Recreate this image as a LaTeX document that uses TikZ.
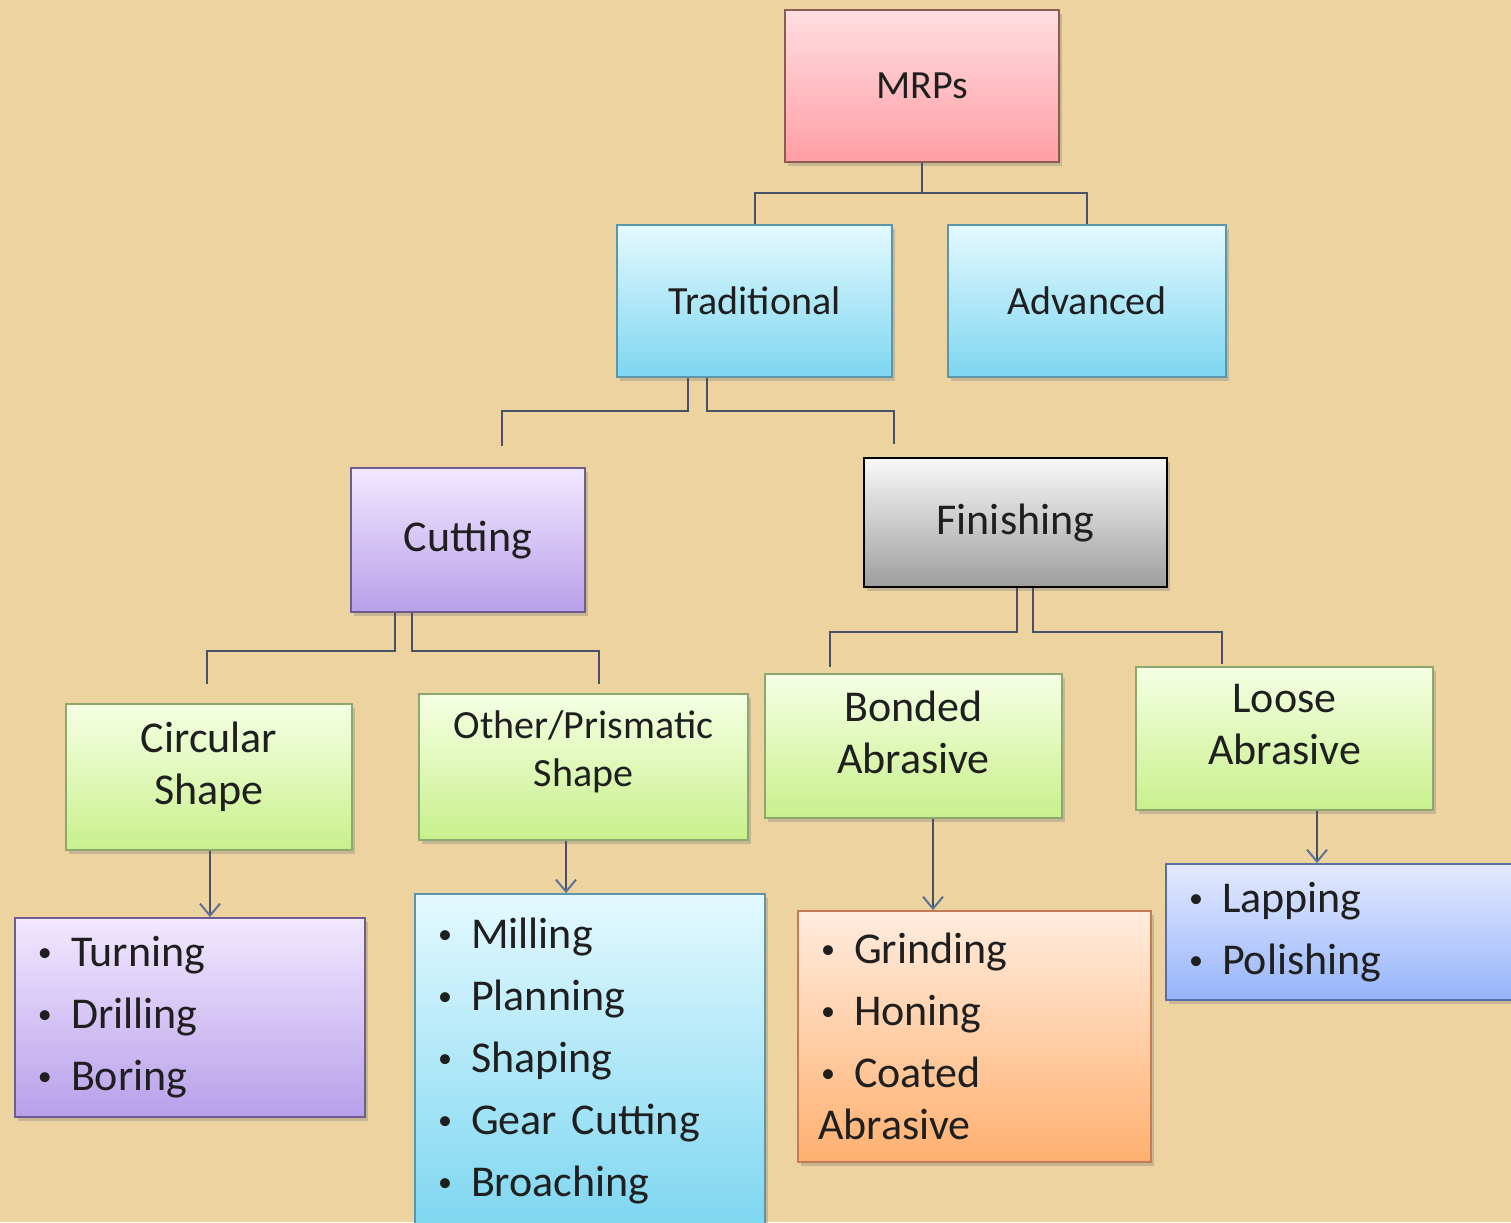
\documentclass[tikz,border=0pt]{standalone}
\usepackage{fontspec}
\setmainfont{Carlito}
\usetikzlibrary{positioning}
\usetikzlibrary{arrows.meta,shadows}
\definecolor{paper}{RGB}{236,211,160}
\definecolor{linkgrey}{RGB}{72,82,100}
\definecolor{tipblue}{RGB}{95,115,150}
\definecolor{pinktop}{RGB}{255,222,226}
\definecolor{pinkbot}{RGB}{255,158,164}
\definecolor{pinkline}{RGB}{140,92,82}
\definecolor{cyantop}{RGB}{228,249,255}
\definecolor{cyanbot}{RGB}{125,214,240}
\definecolor{cyanline}{RGB}{92,150,168}
\definecolor{lilactop}{RGB}{242,232,255}
\definecolor{lilacbot}{RGB}{184,160,234}
\definecolor{lilacline}{RGB}{110,92,140}
\definecolor{greytop}{RGB}{248,248,248}
\definecolor{greybot}{RGB}{158,158,158}
\definecolor{limetop}{RGB}{246,255,228}
\definecolor{limebot}{RGB}{200,240,140}
\definecolor{limeline}{RGB}{140,168,110}
\definecolor{peachtop}{RGB}{255,236,222}
\definecolor{peachbot}{RGB}{255,176,112}
\definecolor{peachline}{RGB}{196,124,84}
\definecolor{bluetop}{RGB}{228,234,255}
\definecolor{bluebot}{RGB}{150,180,250}
\definecolor{blueline}{RGB}{92,110,168}
\tikzset{
   box/.style = {%
    shape=rectangle,
    draw,
    line width=0.8pt,
    inner sep=0pt,
    align=center,
    text=black!88,
    drop shadow={opacity=0.35, shadow xshift=1.5pt, shadow yshift=-2pt}},
   head/.style = {box, font=\fontsize{20}{24}\selectfont},
   big/.style = {box, font=\fontsize{22}{26}\selectfont},
   list/.style = {box, align=left, inner xsep=10pt, font=\fontsize{22}{26}\selectfont},
   pinkbox/.style = {top color=pinktop, bottom color=pinkbot, draw=pinkline},
   cyanbox/.style = {top color=cyantop, bottom color=cyanbot, draw=cyanline},
   lilacbox/.style = {top color=lilactop, bottom color=lilacbot, draw=lilacline},
   greybox/.style = {top color=greytop, bottom color=greybot, draw=black},
   limebox/.style = {top color=limetop, bottom color=limebot, draw=limeline},
   peachbox/.style = {top color=peachtop, bottom color=peachbot, draw=peachline},
   bluebox/.style = {top color=bluetop, bottom color=bluebot, draw=blueline},
   link/.style = {draw=linkgrey, line width=1pt},
   arrow/.style = {%
    draw=linkgrey,
    line width=1pt,
    -{Straight Barb[length=6pt, width=10pt, color=tipblue]}},
    }
\newcommand{\itm}{\makebox[18pt][l]{\hspace{1.5pt}{\fontsize{14}{14}\selectfont\raisebox{2.5pt}{\textbullet}}}}

\begin{document}
\begin{tikzpicture}[x=0.5pt, y=-0.5pt]
    \fill[paper] (0,0) rectangle (1511,1222);
    \useasboundingbox (0,0) rectangle (1511,1222);
    \clip (0,0) rectangle (1511,1222);

    % top levels
    \node[head, pinkbox, minimum width=137pt, minimum height=76pt] (mrps) at (922,86) {MRPs};
    \node[head, cyanbox, minimum width=137.5pt, minimum height=76pt] (trad) at (754.5,301) {Traditional};
    \node[head, cyanbox, minimum width=139pt, minimum height=76pt] (adv) at (1087,301) {Advanced};
    \node[big, lilacbox, minimum width=117pt, minimum height=72pt] (cut) at (468,540) {Cutting};
    \node[big, greybox, minimum width=151.5pt, minimum height=64.5pt] (fin) at (1015.5,522.5) {Finishing};

    % groups
    \node[big, limebox, minimum width=143pt, minimum height=73pt, text depth=14pt] (circ) at (209,777) {Circular\\Shape};
    \node[head, limebox, minimum width=164.5pt, minimum height=73pt, text depth=18pt] (prism) at (583.5,767) {Other/Prismatic\\Shape};
    \node[big, limebox, minimum width=148.5pt, minimum height=72pt, text depth=14pt] (bond) at (913.5,746) {Bonded\\Abrasive};
    \node[big, limebox, minimum width=148.5pt, minimum height=71.5pt, text depth=14pt] (loose) at (1284.5,738.5) {Loose\\Abrasive};

    % process lists
    \node[list, lilacbox, text width=155pt, minimum height=99.5pt] (turnlist) at (190,1017.5)
        {\itm Turning\\[5pt]\itm Drilling\\[5pt]\itm Boring};
    \node[list, cyanbox, text width=155pt, minimum height=167pt] (milllist) at (590,1061)
        {\itm Milling\\[5pt]\itm Planning\\[5pt]\itm Shaping\\[5pt]\itm Gear Cutting\\[5pt]\itm Broaching};
    \node[list, peachbox, text width=156.5pt, minimum height=125.5pt] (grindlist) at (974.5,1036.5)
        {\itm Grinding\\[5pt]\itm Honing\\[5pt]\itm Coated\\Abrasive};
    \node[list, bluebox, text width=157pt, minimum height=68pt] (laplist) at (1343,932)
        {\itm Lapping\\[5pt]\itm Polishing};

    % connectors
    \draw[link] (mrps.south) -- ++(0,30) -| (trad.north);
    \draw[link] (mrps.south) -- ++(0,30) -| (adv.north);
    \draw[link] ([xshift=-33.25pt]trad.south) -- ++(0,33) -| ([xshift=17pt, yshift=10.5pt]cut.north);
    \draw[link] ([xshift=-23.75pt]trad.south) -- ++(0,33) -| ([xshift=-60.75pt, yshift=6.5pt]fin.north);
    \draw[link] ([xshift=-36.5pt]cut.south) -- ++(0,38) -| ([xshift=-1pt, yshift=9.5pt]circ.north);
    \draw[link] ([xshift=-28pt]cut.south) -- ++(0,38) -| ([xshift=7.75pt, yshift=4.5pt]prism.north);
    \draw[link] ([xshift=0.75pt]fin.south) -- ++(0,44) -| ([xshift=-41.75pt, yshift=3pt]bond.north);
    \draw[link] ([xshift=8.75pt]fin.south) -- ++(0,44) -| ([xshift=-31.25pt, yshift=1pt]loose.north);

    % arrows
    \draw[arrow] ([xshift=0.5pt]circ.south) coordinate (c1) -- (c1 |- turnlist.north);
    \draw[arrow] ([xshift=-8.75pt]prism.south) coordinate (c2) -- (c2 |- milllist.north);
    \draw[arrow] ([xshift=9.75pt]bond.south) coordinate (c3) -- (c3 |- grindlist.north);
    \draw[arrow] ([xshift=16.25pt]loose.south) coordinate (c4) -- (c4 |- laplist.north);
\end{tikzpicture}
\end{document}
